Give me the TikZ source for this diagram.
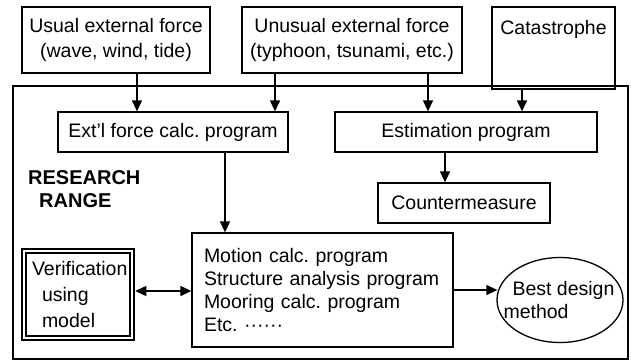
\documentclass[tikz,border=0pt]{standalone}
\usepackage{fontspec}
\setmainfont{Liberation Sans}
\usetikzlibrary{arrows.meta,shapes.geometric,calc}
\frenchspacing
\begin{document}
\begin{tikzpicture}[x=1pt,y=-1pt,
  every node/.style={font=\fontsize{19.5}{25}\selectfont},
  box/.style={draw,line width=1.3pt,rectangle,inner sep=0pt,align=center},
  arr/.style={line width=1.3pt,-{Triangle[length=11pt,width=10pt]}},
  dblarr/.style={line width=1.3pt,{Triangle[length=11pt,width=10pt]}-{Triangle[length=11pt,width=10pt]}}]
\useasboundingbox (0,0) rectangle (631,362);

% research range frame
\draw[line width=1.8pt] (13,86) rectangle (628,359);
\node[font=\fontsize{20}{23}\selectfont\bfseries,align=left,anchor=north west,inner sep=0pt]
  (range) at (28,170) {RESEARCH\\\hspace{11pt}RANGE};

% external force sources
\node[box,minimum width=188pt,minimum height=66pt] (usual) at (116,40)
  {Usual external force\\(wave, wind, tide)};
\node[box,minimum width=220pt,minimum height=66pt] (unusual) at (352,40)
  {Unusual external force\\(typhoon, tsunami, etc.)};
\node[box,minimum width=123pt,minimum height=82pt,
  label={[anchor=north,inner sep=0pt,yshift=-14pt]north:Catastrophe}] (cat) at (553.5,48) {};

% programs
\node[box,minimum width=230pt,minimum height=40pt] (ext) at (173,132) {Ext'l force calc. program};
\node[box,minimum width=262pt,minimum height=40pt] (est) at (466,132) {Estimation program};
\node[box,minimum width=172pt,minimum height=40pt] (counter) at (464,203) {Countermeasure};
\node[box,minimum width=261pt,minimum height=114pt,align=left,inner xsep=12pt,
  text width=237pt,font=\fontsize{19.5}{22.7}\selectfont] (motion) at (322.5,290)
  {Motion calc. program\\Structure analysis program\\Mooring calc. program\\Etc. ······};
\node[box,double,double distance=2.2pt,line width=1.5pt,minimum width=108pt,minimum height=87pt,
  align=left,inner xsep=8pt,text width=92pt,font=\fontsize{19.5}{26}\selectfont] (verif) at (78,294.5)
  {Verification\\\hspace{10pt}using\\\hspace{10pt}model};
\node[draw,ellipse,line width=1.3pt,minimum width=126pt,minimum height=85pt,inner sep=0pt,
  label={[align=left,inner sep=0pt,font=\fontsize{19.5}{23}\selectfont,xshift=-1pt]center:\hspace{9pt}Best design\\method}]
  (best) at (560,300) {};

% connectors
\draw[arr] ([xshift=21pt]usual.south) -- ([xshift=21pt]usual.south |- ext.north);
\draw[arr] ([xshift=-77pt]unusual.south) -- ([xshift=-77pt]unusual.south |- ext.north);
\draw[arr] ([xshift=76pt]unusual.south) -- ([xshift=76pt]unusual.south |- est.north);
\draw[arr] ([xshift=-31.5pt]cat.south) -- ([xshift=-31.5pt]cat.south |- est.north);
\draw[arr] ([xshift=-21pt]est.south) -- ([xshift=-21pt]est.south |- counter.north);
\draw[arr] ([xshift=52pt]ext.south) -- ([xshift=52pt]ext.south |- motion.north);
\draw[dblarr] ([xshift=2.5pt]verif.east |- 0,291) -- (motion.west |- 0,291);
\draw[arr] (motion.east) -- ([xshift=1pt]motion.east -| best.west);
\end{tikzpicture}
\end{document}
